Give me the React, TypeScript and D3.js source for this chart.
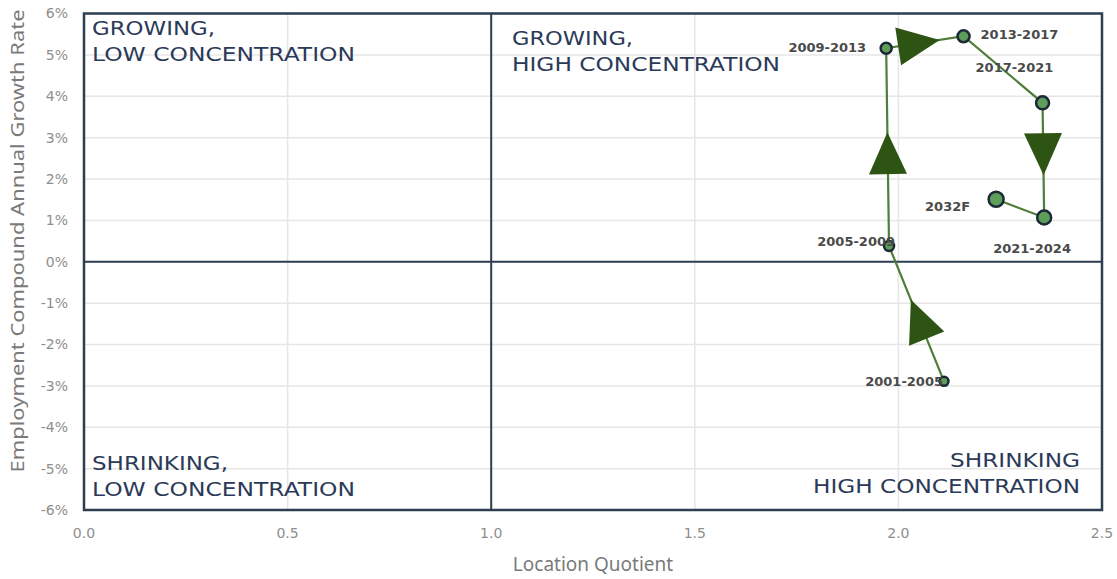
import React from "react";
import * as d3 from "d3";

const periods = ["2001-2005", "2005-2009", "2009-2013", "2013-2017", "2017-2021", "2021-2024", "2032F"];
const locationQuotient = [2.112, 1.977, 1.970, 2.160, 2.354, 2.358, 2.240];
const cagr = [-2.89, 0.38, 5.16, 5.45, 3.84, 1.07, 1.51];
const markerSize = [4.5, 5, 5.5, 6, 6.5, 7, 7.5];
const arrowSegments = [0, 1, 2, 4];
const xTicks = [0, 0.5, 1.0, 1.5, 2.0, 2.5];
const yTicks = [-6, -5, -4, -3, -2, -1, 0, 1, 2, 3, 4, 5, 6];

type Lbl = { dx: number; dy: number; anchor: "start" | "end" };
const labelPlacement: Lbl[] = [
  { dx: -1, dy: 0, anchor: "end" },
  { dx: 6, dy: -5, anchor: "end" },
  { dx: -20, dy: -1, anchor: "end" },
  { dx: 17, dy: -2, anchor: "start" },
  { dx: -67, dy: -35, anchor: "start" },
  { dx: -51, dy: 31, anchor: "start" },
  { dx: -26, dy: 7, anchor: "end" },
];

const quadrantLabels = [
  { lines: ["GROWING,", "LOW CONCENTRATION"], widths: [123, 263], x: 92, y: 35, anchor: "start" },
  { lines: ["GROWING,", "HIGH CONCENTRATION"], widths: [121, 268], x: 512, y: 45, anchor: "start" },
  { lines: ["SHRINKING,", "LOW CONCENTRATION"], widths: [136, 263], x: 92, y: 470, anchor: "start" },
  { lines: ["SHRINKING", "HIGH CONCENTRATION"], widths: [130, 267], x: 1080, y: 467, anchor: "end" },
];

const W = 1117;
const H = 579;
const x = d3.scaleLinear().domain([0, 2.5]).range([84, 1102]);
const y = d3.scaleLinear().domain([-6, 6]).range([510, 13.5]);

const FRAME = "#2c3e50";
const LINE = "#4f7d3a";
const ARROW = "#2d5413";
const DOT = "#5e9e5a";
const DOT_STROKE = "#1b2838";
const TEXT_Q = "#2b3a58";

export default function App() {
  const pts = locationQuotient.map((v, i) => [x(v), y(cagr[i])] as [number, number]);
  const line = d3.line<[number, number]>()(pts) || "";

  const triangles = arrowSegments.map((i) => {
    const [x1, y1] = pts[i];
    const [x2, y2] = pts[i + 1];
    const len = Math.hypot(x2 - x1, y2 - y1);
    const ux = (x2 - x1) / len;
    const uy = (y2 - y1) / len;
    const mx = (x1 + x2) / 2;
    const my = (y1 + y2) / 2;
    const tip = [mx + ux * 15, my + uy * 15];
    const bc = [mx - ux * 27, my - uy * 27];
    const px = -uy, py = ux;
    const hw = 19;
    const b1 = [bc[0] + px * hw, bc[1] + py * hw];
    const b2 = [bc[0] - px * hw, bc[1] - py * hw];
    return `M${tip[0]},${tip[1]}L${b1[0]},${b1[1]}L${b2[0]},${b2[1]}Z`;
  });

  const [x0, x1] = x.range();
  const [yb, yt] = y.range();

  return (
    <svg width={W} height={H} style={{ position: "absolute", left: 0, top: 0, background: "#fff" }}>
      <rect x={0} y={0} width={W} height={H} fill="#fff" />
      {yTicks.map((t) => (
        <line key={"gy" + t} x1={x0} x2={x1} y1={y(t)} y2={y(t)} stroke="#e6e6e6" strokeWidth={1.5} />
      ))}
      {xTicks.map((t) => (
        <line key={"gx" + t} x1={x(t)} x2={x(t)} y1={yt} y2={yb} stroke="#e6e6e6" strokeWidth={1.5} />
      ))}
      {quadrantLabels.map((q, qi) =>
        q.lines.map((l, li) => (
          <text
            key={"q" + qi + li}
            x={q.x}
            y={q.y + li * 26}
            textAnchor={q.anchor as any}
            fontFamily="'DejaVu Sans', sans-serif"
            fontSize={20}
            fill={TEXT_Q}
            textLength={q.widths[li]}
            lengthAdjust="spacingAndGlyphs"
          >
            {l}
          </text>
        ))
      )}
      <line x1={x(1)} x2={x(1)} y1={yt} y2={yb} stroke={FRAME} strokeWidth={2} />
      <line x1={x0} x2={x1} y1={y(0)} y2={y(0)} stroke={FRAME} strokeWidth={2} />
      <rect x={x0} y={yt} width={x1 - x0} height={yb - yt} fill="none" stroke={FRAME} strokeWidth={2.5} />
      {yTicks.map((t) => (
        <text
          key={"ty" + t}
          x={68}
          y={y(t)}
          dy="0.35em"
          textAnchor="end"
          fontFamily="'DejaVu Sans', sans-serif"
          fontSize={14}
          fill="#8e8e8e"
        >
          {t + "%"}
        </text>
      ))}
      {xTicks.map((t) => (
        <text
          key={"tx" + t}
          x={x(t)}
          y={533}
          dy="0.35em"
          textAnchor="middle"
          fontFamily="'DejaVu Sans', sans-serif"
          fontSize={14}
          fill="#8e8e8e"
        >
          {t.toFixed(1)}
        </text>
      ))}
      <text x={593} y={571} textAnchor="middle" fontFamily="'Noto Sans', sans-serif" fontSize={19} fill="#7a7a7a">
        Location Quotient
      </text>
      <text
        transform={`translate(24,241) rotate(-90)`}
        textAnchor="middle"
        fontFamily="'Noto Sans', sans-serif"
        fontSize={18.5}
        fill="#7a7a7a"
        textLength={463}
        lengthAdjust="spacingAndGlyphs"
      >
        Employment Compound Annual Growth Rate
      </text>
      <path d={line} fill="none" stroke={LINE} strokeWidth={2.2} />
      {triangles.map((d, i) => (
        <path key={"tr" + i} d={d} fill={ARROW} />
      ))}
      {pts.map((p, i) => (
        <circle key={"c" + i} cx={p[0]} cy={p[1]} r={markerSize[i]} fill={DOT} stroke={DOT_STROKE} strokeWidth={2.5} />
      ))}
      {pts.map((p, i) => (
        <text
          key={"l" + i}
          x={p[0] + labelPlacement[i].dx}
          y={p[1] + labelPlacement[i].dy}
          dy="0.35em"
          textAnchor={labelPlacement[i].anchor}
          fontFamily="'DejaVu Sans', sans-serif"
          fontSize={13}
          fontWeight="bold"
          fill="#4a4a4a"
        >
          {periods[i]}
        </text>
      ))}
    </svg>
  );
}
